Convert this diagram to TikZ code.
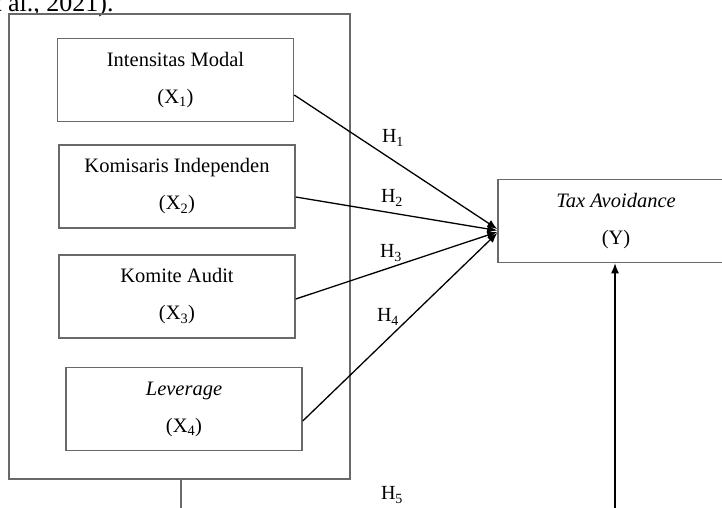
\documentclass[tikz,border=0pt]{standalone}
\usepackage{fontspec}
\setmainfont{Liberation Serif}
\usetikzlibrary{arrows.meta}
\definecolor{boxgray}{RGB}{105,105,105}
\begin{document}
\begin{tikzpicture}[x=1pt,y=-1pt,
  box/.style={draw=boxgray, line width=1.5pt, minimum width=236pt, minimum height=83pt,
    inner sep=0pt, align=center, font=\fontsize{20.5}{37}\selectfont},
  conn/.style={line width=1.3pt, -{Latex[length=10pt,width=8pt]}},
  hyp/.style={font=\fontsize{20}{22}\selectfont, inner sep=0pt}]
\clip (0,0) rectangle (722,508);
\node[anchor=base west, inner sep=0pt, font=\fontsize{26}{30}\selectfont] (cite) at (-17.3,11.5) {et al., 2021).};
\node[draw=boxgray, line width=1.3pt, minimum width=341pt, minimum height=465pt, inner sep=0pt] (outer) at (179.5,246.5) {};
\node[box] (b1) at (175.5,80) {Intensitas Modal\\(X\textsubscript{1})};
\node[box] (b2) at (177,186.5) {Komisaris Independen\\(X\textsubscript{2})};
\node[box] (b3) at (177,296.5) {Komite Audit\\(X\textsubscript{3})};
\node[box] (b4) at (184,409) {\textit{Leverage}\\(X\textsubscript{4})};
\node[box] (tax) at (616,221) {\textit{Tax Avoidance}\\(Y)};
\draw[conn] ([yshift=-15pt]b1.east) -- ([yshift=-8pt]tax.west);
\draw[conn] ([yshift=-10.5pt]b2.east) -- ([yshift=-9.5pt]tax.west);
\draw[conn] ([yshift=-2.5pt]b3.east) -- ([yshift=-11pt]tax.west);
\draw[conn] ([yshift=-12pt]b4.east) -- ([yshift=-12pt]tax.west);
\coordinate (ybot) at (615,512);
\draw[conn] (ybot) -- (ybot |- tax.south);
\coordinate (xbot) at (181,512);
\draw[line width=1.1pt, draw=boxgray] (outer.south -| xbot) -- (xbot);
\node[hyp] (h1) at (393,138) {H\textsubscript{1}};
\node[hyp] (h2) at (392,198) {H\textsubscript{2}};
\node[hyp] (h3) at (391,253) {H\textsubscript{3}};
\node[hyp] (h4) at (388,317) {H\textsubscript{4}};
\node[hyp] (h5) at (392,495) {H\textsubscript{5}};
\end{tikzpicture}
\end{document}
